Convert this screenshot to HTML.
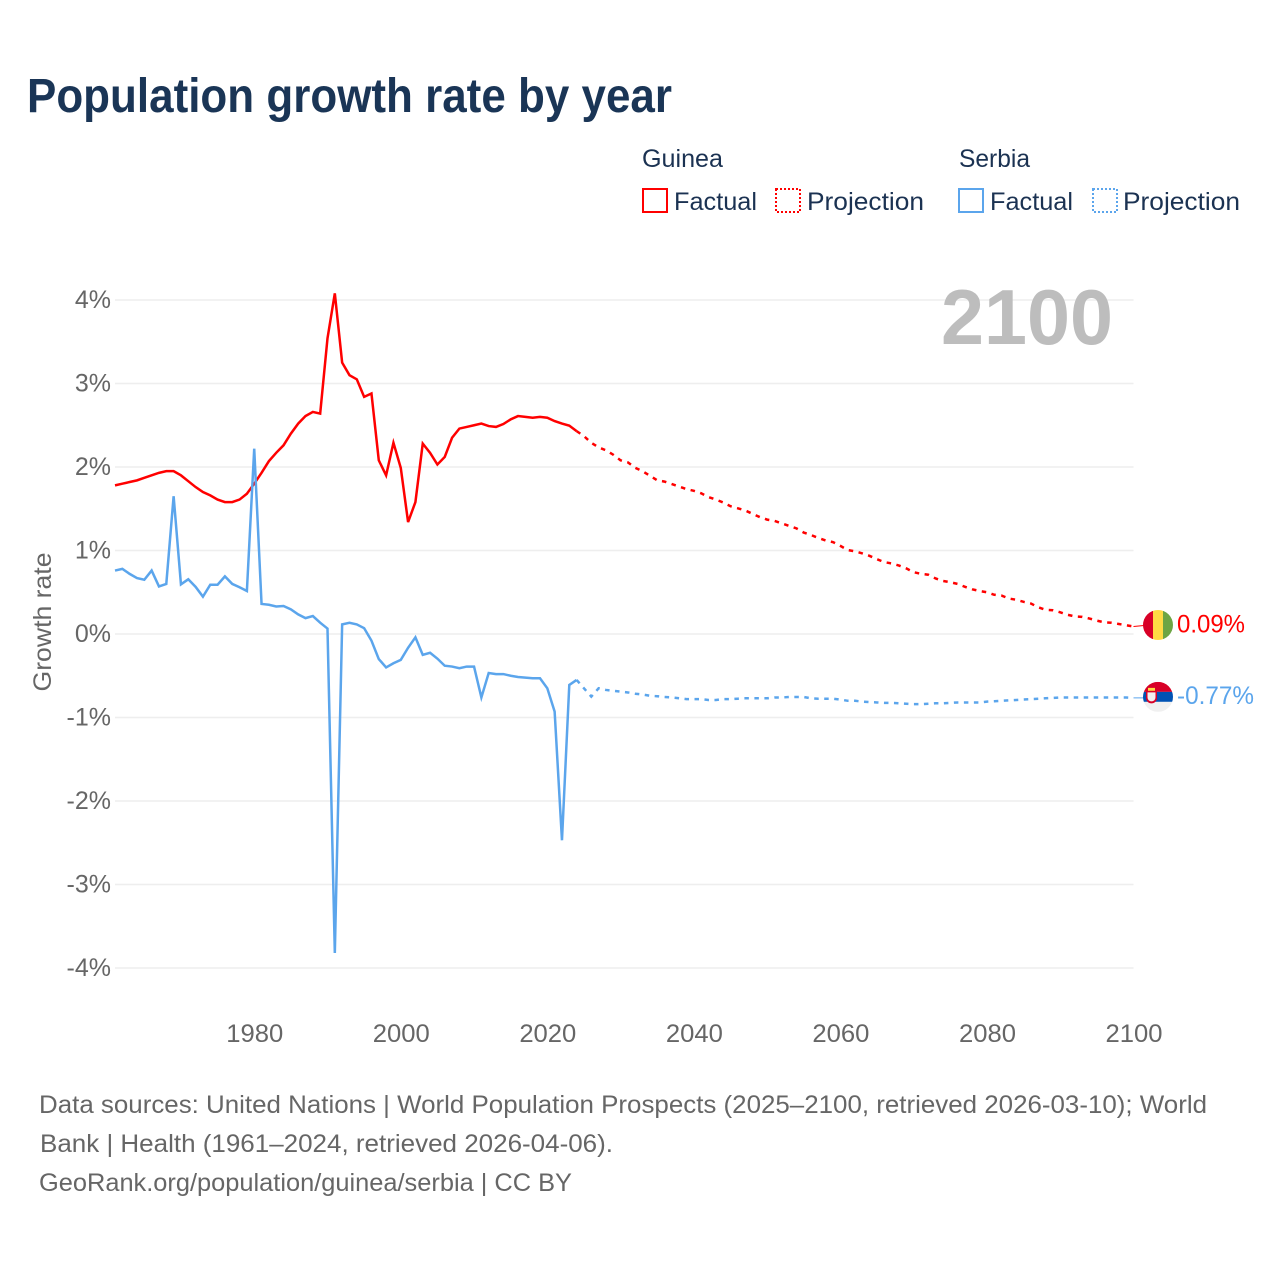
<!DOCTYPE html>
<html lang="en">
<head>
<meta charset="utf-8">
<title>Population growth rate by year</title>
<style>
html,body{margin:0;padding:0;background:#fff;width:1280px;height:1280px;overflow:hidden}
svg{display:block}
text{font-family:"Liberation Sans",sans-serif}
</style>
</head>
<body>
<svg id="chart" width="1280" height="1280" viewBox="0 0 1280 1280" xmlns="http://www.w3.org/2000/svg">
  <text x="27" y="112" font-size="48" font-weight="700" fill="#1a3556" textLength="645" lengthAdjust="spacingAndGlyphs">Population growth rate by year</text>

  <g font-size="25" fill="#1b3252">
    <text x="642" y="167" textLength="81" lengthAdjust="spacingAndGlyphs">Guinea</text>
    <rect x="643" y="189" width="24" height="23" fill="none" stroke="#ff0000" stroke-width="2"/>
    <text x="674" y="210" textLength="83" lengthAdjust="spacingAndGlyphs">Factual</text>
    <rect x="776" y="189" width="24" height="23" fill="none" stroke="#ff0000" stroke-width="2" stroke-dasharray="2,2"/>
    <text x="807" y="210" textLength="117" lengthAdjust="spacingAndGlyphs">Projection</text>
    <text x="959" y="167" textLength="71" lengthAdjust="spacingAndGlyphs">Serbia</text>
    <rect x="959" y="189" width="24" height="23" fill="none" stroke="#5ba5ec" stroke-width="2"/>
    <text x="990" y="210" textLength="83" lengthAdjust="spacingAndGlyphs">Factual</text>
    <rect x="1093" y="189" width="24" height="23" fill="none" stroke="#5ba5ec" stroke-width="2" stroke-dasharray="2,2"/>
    <text x="1123" y="210" textLength="117" lengthAdjust="spacingAndGlyphs">Projection</text>
  </g>

  <g id="grid"></g>
  <g id="yticks"></g>
  <g id="xticks"></g>

  <text transform="translate(51,622) rotate(-90)" text-anchor="middle" font-size="25" fill="#666" textLength="139" lengthAdjust="spacingAndGlyphs">Growth rate</text>
  <text x="941" y="344" font-size="78" font-weight="700" fill="#bdbdbd" textLength="172" lengthAdjust="spacingAndGlyphs">2100</text>

  <g id="series"></g>
  <g id="leaders"></g>

  <g id="flag-guinea">
    <clipPath id="clip-guinea"><circle cx="0" cy="0" r="15"/></clipPath>
    <g clip-path="url(#clip-guinea)">
      <rect x="-15" y="-15" width="10" height="30" fill="#d80027"/>
      <rect x="-5" y="-15" width="10" height="30" fill="#ffda44"/>
      <rect x="5" y="-15" width="10" height="30" fill="#6da544"/>
    </g>
  </g>
  <g id="flag-serbia">
    <clipPath id="clip-serbia"><circle cx="0" cy="0" r="15"/></clipPath>
    <g clip-path="url(#clip-serbia)">
      <rect x="-15" y="-15" width="30" height="10" fill="#d80027"/>
      <rect x="-15" y="-5" width="30" height="10" fill="#0052b4"/>
      <rect x="-15" y="5" width="30" height="10" fill="#f0f0f0"/>
      <rect x="-10" y="-9" width="7" height="3" fill="#ffda44"/>
      <path d="M-12,-6 h11 v7 a5.5,5.5 0 0 1 -11,0 z" fill="#d80027"/>
      <path d="M-10.5,-4.5 h8 v5 a4,4 0 0 1 -8,0 z" fill="#f0f0f0"/>
    </g>
  </g>

  <g id="end-labels"></g>

  <g font-size="25" fill="#666">
    <text x="39" y="1113" textLength="1168" lengthAdjust="spacingAndGlyphs">Data sources: United Nations | World Population Prospects (2025–2100, retrieved 2026-03-10); World</text>
    <text x="40" y="1152" textLength="573" lengthAdjust="spacingAndGlyphs">Bank | Health (1961–2024, retrieved 2026-04-06).</text>
    <text x="39" y="1191" textLength="533" lengthAdjust="spacingAndGlyphs">GeoRank.org/population/guinea/serbia | CC BY</text>
  </g>
</svg>
<script>
const factualStartYear = 1961;
const projectionStartYear = 2024;
const xTickYears = [1980, 2000, 2020, 2040, 2060, 2080, 2100];
const yTickValues = [4, 3, 2, 1, 0, -1, -2, -3, -4];
const yTickLabels = ['4%', '3%', '2%', '1%', '0%', '-1%', '-2%', '-3%', '-4%'];
const guineaEndLabel = '0.09%';
const serbiaEndLabel = '-0.77%';

const guineaFactual = [
  1.78,1.80,1.82,1.84,1.87,1.90,1.93,1.95,1.95,1.90,
  1.83,1.76,1.70,1.66,1.61,1.58,1.58,1.61,1.68,1.80,
  1.93,2.07,2.17,2.26,2.40,2.52,2.61,2.66,2.64,3.54,
  4.08,3.25,3.10,3.05,2.84,2.88,2.08,1.90,2.29,1.99,
  1.34,1.58,2.28,2.17,2.03,2.12,2.35,2.46,2.48,2.50,
  2.52,2.49,2.48,2.515,2.57,2.61,2.60,2.59,2.60,2.59,
  2.55,2.52,2.495,2.43
];
const guineaProjection = [
  2.43,2.37,2.29,2.235,2.20,2.147,2.08,
  2.055,1.99,1.95,1.895,1.84,1.825,1.795,1.765,1.735,1.715,
  1.685,1.64,1.61,1.575,1.53,1.505,1.48,1.44,1.40,1.37,
  1.355,1.325,1.295,1.265,1.215,1.185,1.15,1.12,1.10,1.055,
  1.005,0.99,0.965,0.935,0.895,0.86,0.845,0.82,0.785,0.74,
  0.72,0.71,0.665,0.635,0.62,0.60,0.565,0.535,0.515,0.50,
  0.47,0.46,0.425,0.41,0.385,0.365,0.32,0.29,0.285,0.26,
  0.23,0.21,0.205,0.185,0.16,0.14,0.135,0.12,0.105,0.09
];
const serbiaFactual = [
  0.76,0.78,0.72,0.67,0.65,0.76,0.57,0.60,1.65,0.595,
  0.655,0.565,0.447,0.59,0.59,0.69,0.60,0.56,0.515,2.22,
  0.36,0.35,0.33,0.335,0.295,0.235,0.19,0.215,0.135,0.065,
  -3.82,0.115,0.135,0.115,0.07,-0.08,-0.30,-0.40,-0.35,-0.31,
  -0.165,-0.04,-0.25,-0.225,-0.295,-0.38,-0.39,-0.41,-0.39,-0.39,
  -0.76,-0.467,-0.48,-0.48,-0.50,-0.515,-0.523,-0.53,-0.53,-0.65,
  -0.93,-2.47,-0.61,-0.55
];
const serbiaProjection = [
  -0.55,-0.65,-0.75,-0.65,-0.67,-0.68,-0.69,
  -0.70,-0.715,-0.725,-0.74,-0.745,-0.755,-0.76,-0.77,-0.78,-0.78,
  -0.78,-0.79,-0.79,-0.78,-0.78,-0.775,-0.77,-0.77,-0.77,-0.77,
  -0.76,-0.76,-0.755,-0.755,-0.755,-0.77,-0.775,-0.775,-0.775,-0.785,
  -0.80,-0.80,-0.81,-0.815,-0.82,-0.825,-0.825,-0.83,-0.835,-0.84,
  -0.84,-0.835,-0.83,-0.83,-0.825,-0.82,-0.82,-0.82,-0.82,-0.81,
  -0.805,-0.80,-0.795,-0.79,-0.785,-0.78,-0.775,-0.77,-0.765,-0.76,
  -0.76,-0.76,-0.76,-0.76,-0.76,-0.76,-0.76,-0.76,-0.76,-0.765
];

const SVGNS = 'http://www.w3.org/2000/svg';
const plotLeft = 115, plotRight = 1133.5, yZero = 634, pxPerPercent = 83.5;
const xMinYear = 1961, xMaxYear = 2100;
const guineaColor = '#ff0000', serbiaColor = '#5ba5ec';
const lineWidth = 2.5, dashPattern = '4.5,5.5';

function xScale(year) {
  return plotLeft + (year - xMinYear) * (plotRight - plotLeft) / (xMaxYear - xMinYear);
}
function yScale(value) {
  return yZero - value * pxPerPercent;
}
function make(tag, attrs, parent) {
  const el = document.createElementNS(SVGNS, tag);
  for (const k in attrs) el.setAttribute(k, attrs[k]);
  parent.appendChild(el);
  return el;
}
function linePoints(values, startYear) {
  return values.map((v, i) => xScale(startYear + i).toFixed(2) + ',' + yScale(v).toFixed(2)).join(' ');
}

const gridGroup = document.getElementById('grid');
const yTickGroup = document.getElementById('yticks');
yTickValues.forEach((v, i) => {
  const line = make('line', {x1: plotLeft, x2: plotRight, y1: yScale(v), y2: yScale(v), stroke: '#eeeeee', 'stroke-width': 1.5}, gridGroup);
  
  
  const label = make('text', {x: 111, y: yScale(v) + 8, 'text-anchor': 'end', 'font-size': 25, fill: '#666'}, yTickGroup);
  label.textContent = yTickLabels[i];
  
  
});

const xTickGroup = document.getElementById('xticks');
xTickYears.forEach((year) => {
  const label = make('text', {x: xScale(year) + 0.5, y: 1042, 'text-anchor': 'middle', 'font-size': 25, fill: '#666', textLength: 57, lengthAdjust: 'spacingAndGlyphs'}, xTickGroup);
  label.textContent = String(year);
  
  
});

const seriesGroup = document.getElementById('series');

const guineaFactualLine = make('polyline', {points: linePoints(guineaFactual, factualStartYear), fill: 'none', stroke: guineaColor, 'stroke-width': lineWidth, 'stroke-linejoin': 'miter'}, seriesGroup);



const serbiaFactualLine = make('polyline', {points: linePoints(serbiaFactual, factualStartYear), fill: 'none', stroke: serbiaColor, 'stroke-width': lineWidth, 'stroke-linejoin': 'miter'}, seriesGroup);



const guineaProjectionLine = make('polyline', {points: linePoints(guineaProjection, projectionStartYear), fill: 'none', stroke: guineaColor, 'stroke-width': lineWidth, 'stroke-dasharray': dashPattern}, seriesGroup);



const serbiaProjectionLine = make('polyline', {points: linePoints(serbiaProjection, projectionStartYear), fill: 'none', stroke: serbiaColor, 'stroke-width': lineWidth, 'stroke-dasharray': dashPattern}, seriesGroup);



const leaderGroup = document.getElementById('leaders');
const labelGroup = document.getElementById('end-labels');
const guineaEndY = yScale(guineaProjection[guineaProjection.length - 1]);
const serbiaEndY = yScale(serbiaProjection[serbiaProjection.length - 1]);

const guineaLeader = make('line', {x1: plotRight, x2: 1144, y1: guineaEndY, y2: guineaEndY - 1, stroke: guineaColor, 'stroke-width': 1}, leaderGroup);



const serbiaLeader = make('line', {x1: plotRight, x2: 1144, y1: serbiaEndY, y2: serbiaEndY, stroke: serbiaColor, 'stroke-width': 1}, leaderGroup);



const guineaLabel = make('text', {x: 1177, y: guineaEndY + 6, 'font-size': 25, fill: guineaColor, textLength: 68, lengthAdjust: 'spacingAndGlyphs'}, labelGroup);
guineaLabel.textContent = guineaEndLabel;



const serbiaLabel = make('text', {x: 1177, y: serbiaEndY + 6, 'font-size': 25, fill: serbiaColor, textLength: 77, lengthAdjust: 'spacingAndGlyphs'}, labelGroup);
serbiaLabel.textContent = serbiaEndLabel;



document.getElementById('flag-guinea').setAttribute('transform', 'translate(1158,' + (guineaEndY - 1.5) + ')');
document.getElementById('flag-serbia').setAttribute('transform', 'translate(1158,' + (serbiaEndY - 1) + ')');
</script>
</body>
</html>
